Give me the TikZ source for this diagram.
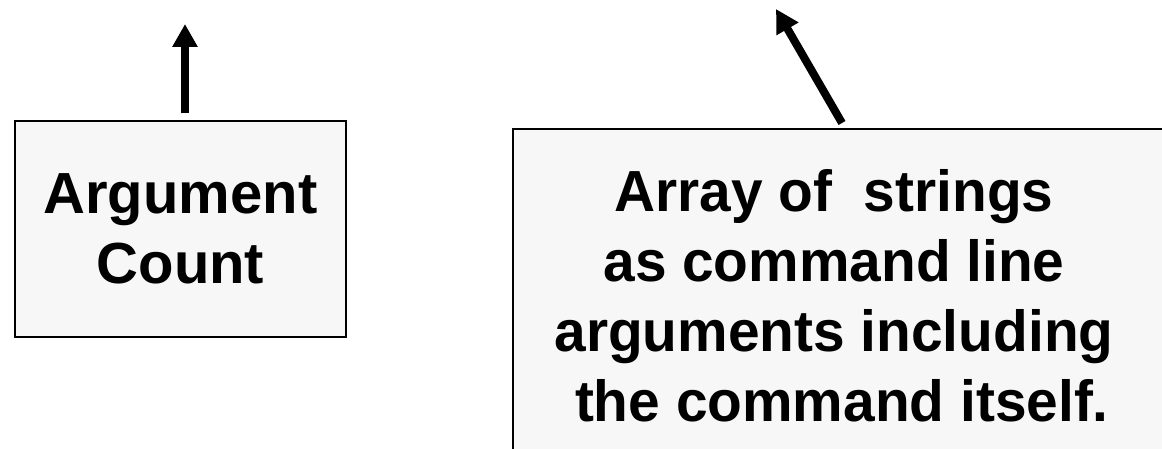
\documentclass[tikz,border=0pt]{standalone}
\usepackage{fontspec}
\setmainfont{Liberation Sans}
\usetikzlibrary{arrows.meta}

\begin{document}
\begin{tikzpicture}[
                    x=0.5pt, y=-0.5pt, % one unit is one pixel, counted from the top
                    every node/.style={font=\fontsize{29}{35}\selectfont\bfseries, align=center},
                    argbox/.style={draw, line width=1pt, fill=black!3, inner sep=0pt},
                    bigarrow/.style={line width=4pt, -{Triangle[length=11.5pt, width=12pt]}}
                ]

                \useasboundingbox (0,0) rectangle (1162,449);
                \clip (0,0) rectangle (1162,449);

                \node[argbox, minimum width=165.5pt, minimum height=107.5pt] (argc) at (180.5,229) {Argument\\Count};
                \node[argbox, anchor=north west, minimum width=335pt, minimum height=175pt] (argvbox) at (512,128) {};
                \node[xscale=0.98] (argv) at (834,296) {Array of \ strings\\as command line\\arguments including\\\ the command itself.};

                \coordinate (argctip) at (185,24);
                \coordinate (argvtip) at (776,9);
                \draw[bigarrow]
                    ([yshift=3.5pt]argc.north -| argctip) -- (argctip);
                \draw[bigarrow]
                    ([shift={(330,-5)}]argvbox.north west) -- (argvtip);
            \end{tikzpicture}
\end{document}
